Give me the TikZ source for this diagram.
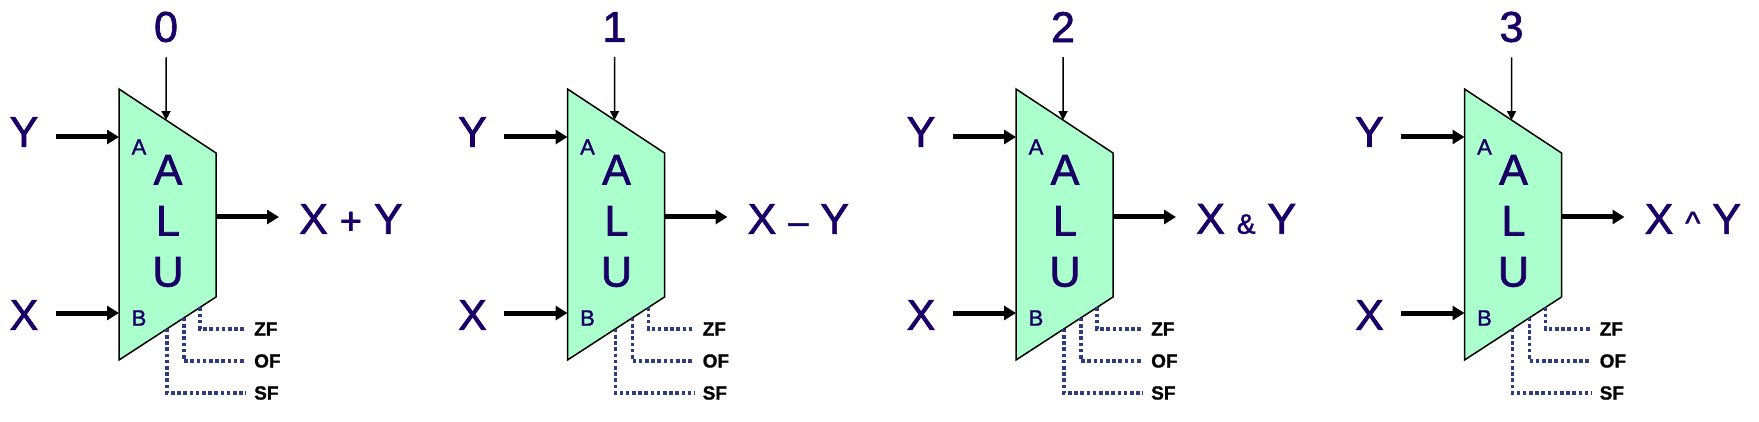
\documentclass[tikz,border=0pt]{standalone}
\usepackage{fontspec}
\setmainfont{Liberation Sans}
\newfontfamily\alufont[FakeBold=1.6]{Liberation Sans}
\newfontfamily\flagfont[FakeBold=1]{Liberation Sans Bold}
\usepackage{xcolor}
\usetikzlibrary{arrows.meta,positioning,calc}
\definecolor{aluink}{HTML}{1A0066}
\definecolor{alufill}{HTML}{AAFFCC}
\definecolor{flagline}{HTML}{2E3C7E}

\begin{document}
\begin{tikzpicture}[x=1pt,y=-1pt,>=Latex,
   lbl/.style={text=aluink,font=\alufont\fontsize{43}{48}\selectfont,inner sep=0pt},
   port/.style={text=aluink,font=\alufont\fontsize{22}{24}\selectfont,inner sep=0pt},
   flag/.style={font=\flagfont\fontsize{19}{20}\selectfont,inner sep=0pt,anchor=west},
   bus/.style={line width=5pt,-{Triangle[length=12pt,width=14pt]}},
   ctrl/.style={line width=1.5pt,-{Triangle[length=9pt,width=9pt]}},
   flagwire/.style={draw=flagline,line width=3.4pt,dash pattern=on 3.6pt off 2.6pt}]
\useasboundingbox (0,0) rectangle (1759,422);
\foreach \i/\op/\opsize in {0/+/38,1/\textendash/36,2/\&/28,3/\textasciicircum/32} {
\begin{scope}[xshift=\i*448.5pt]
% ALU body
\coordinate (tl\i) at (119,89);  \coordinate (tr\i) at (216,153);
\coordinate (bl\i) at (119,360); \coordinate (br\i) at (216,297);
\draw[fill=alufill,line width=1.5pt] (tl\i)--(tr\i)--(br\i)--(bl\i)--cycle;
\node[lbl,align=center,font=\alufont\fontsize{43}{51}\selectfont] (alu\i) at (168,221) {A\\L\\U};
\node[port] (pa\i) at (139,147) {A};
\node[port] (pb\i) at (139,318) {B};
% inputs
\node[lbl] (sel\i) at (166,27) {\i};
\node[lbl] (y\i) at (24,132) {Y};
\node[lbl] (x\i) at (24,315) {X};
\coordinate (top\i) at ($(tl\i)!0.485!(tr\i)$);
\coordinate (a\i) at (119,137);
\coordinate (b\i) at (119,313);
\draw[ctrl,shorten <=15pt] (sel\i)--(top\i);
\draw[bus,shorten <=17pt] (y\i.east |- a\i)--(a\i);
\draw[bus,shorten <=17pt] (x\i.east |- b\i)--(b\i);
% output
\coordinate (out\i) at (216,217);
\node[lbl,anchor=west] (res\i) at (299,219) {X {\fontsize{\opsize}{\opsize}\selectfont\op} Y};
\draw[bus,shorten >=20pt] (out\i)--(res\i.west |- out\i);
% flags
\coordinate (zf\i) at ($(bl\i)!0.835!(br\i)$);
\coordinate (of\i) at ($(bl\i)!0.67!(br\i)$);
\coordinate (sf\i) at ($(bl\i)!0.495!(br\i)$);
\node[flag] (zfl\i) at (254,329) {ZF};
\node[flag] (ofl\i) at (254,361) {OF};
\node[flag] (sfl\i) at (254,393) {SF};
\draw[flagwire,shorten >=8pt] (zf\i)|-(zfl\i.west);
\draw[flagwire,shorten >=8pt] (of\i)|-(ofl\i.west);
\draw[flagwire,shorten >=8pt] (sf\i)|-(sfl\i.west);
\end{scope}
}
\end{tikzpicture}
\end{document}
